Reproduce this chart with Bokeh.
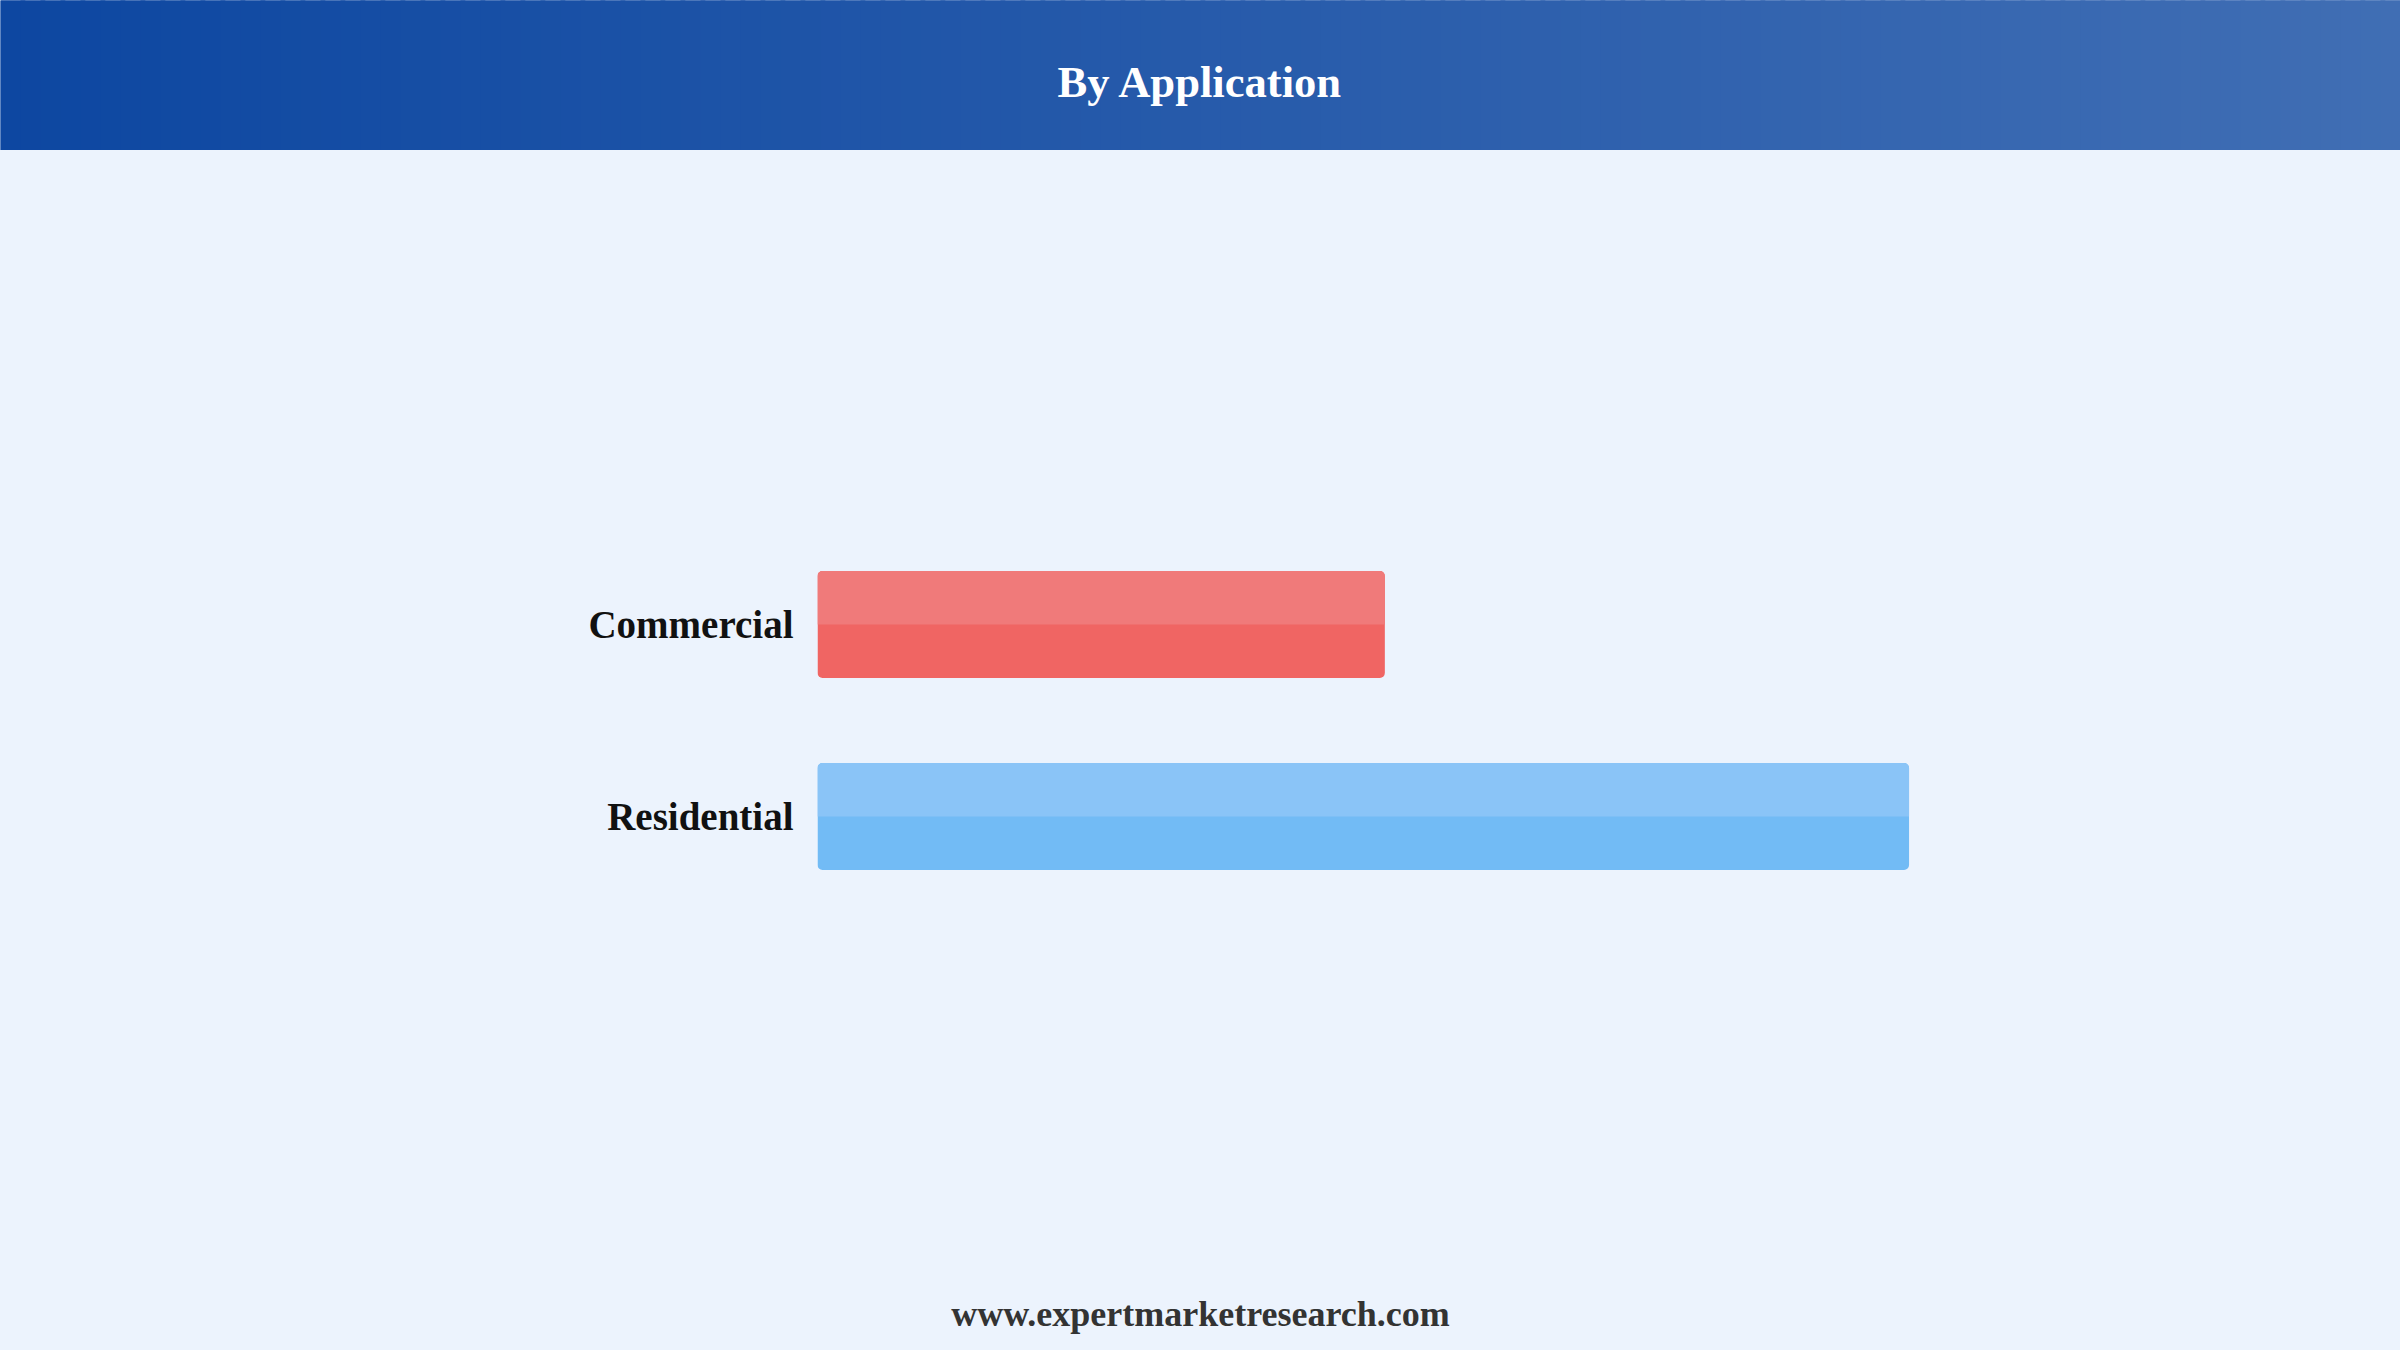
from bokeh.plotting import figure
from bokeh.models import ColumnDataSource, Range1d, FactorRange
from bokeh.layouts import column
from bokeh.transform import dodge
from bokeh.core.properties import value
from bokeh.embed import file_html
from bokeh.resources import INLINE

# data
applications = ["Commercial", "Residential"]
shares = [34.2, 65.8]
bar_top_colors = ["#f07a7a", "#8ac4f7"]
bar_bottom_colors = ["#f06563", "#72bbf5"]

title_text = "By Application"
footer_text = "www.expertmarketresearch.com"

BG = "#ecf3fd"
W = 2400
SERIF = "Liberation Serif"


def blank(fig):
    fig.xaxis.visible = False
    fig.yaxis.visible = False
    fig.xgrid.visible = False
    fig.ygrid.visible = False
    fig.outline_line_color = None
    fig.min_border = 0
    fig.frame_align = False
    return fig


# header band with a left-to-right gradient
header = blank(figure(width=W, height=150, x_range=Range1d(0, 1), y_range=Range1d(0, 150),
                      toolbar_location=None, output_backend="svg"))
header.border_fill_color = "#0d47a1"
header.background_fill_color = "#0d47a1"
n = 120
c0 = (0x0d, 0x47, 0xa1)
c1 = (0x40, 0x6e, 0xb4)
lefts = [i / n for i in range(n)]
rights = [(i + 1) / n + 0.002 for i in range(n)]
cols = ["#%02x%02x%02x" % tuple(int(round(a + (b - a) * (i + 0.5) / n)) for a, b in zip(c0, c1))
        for i in range(n)]
header.quad(left=lefts, right=rights, bottom=-2, top=152, fill_color=cols, line_color=None)
header.text(x=[0.5], y=[69], text=[title_text], text_align="center", text_baseline="alphabetic",
            text_font=value(SERIF), text_font_style="bold", text_font_size="44.6px", text_color="white")

# main bar chart
factors = applications[::-1]  # Commercial on top
source = ColumnDataSource(data=dict(app=applications, share=shares,
                                    top_color=bar_top_colors, bottom_color=bar_bottom_colors))

p = figure(width=W, height=1130, y_range=FactorRange(*factors, range_padding=0),
           x_range=Range1d(0, 90), toolbar_location=None, output_backend="svg")
p.frame_align = False
p.min_border_left = 817
p.min_border_right = 90
p.min_border_top = 378
p.min_border_bottom = 368
p.background_fill_color = BG
p.border_fill_color = BG
p.outline_line_color = None
p.xgrid.visible = False
p.ygrid.visible = False
p.xaxis.visible = False

bar_h = 0.557
p.hbar(y="app", left=0, right="share", height=bar_h, source=source,
       fill_color="bottom_color", line_color=None, border_radius=5)
p.hbar(y=dodge("app", bar_h / 4, range=p.y_range), left=0, right="share", height=bar_h / 2,
       source=source, fill_color="top_color", line_color=None, border_radius=(5, 5, 0, 0))

p.yaxis.axis_line_color = None
p.yaxis.major_tick_line_color = None
p.yaxis.minor_tick_line_color = None
p.yaxis.major_tick_out = 0
p.yaxis.major_label_standoff = 24
p.yaxis.major_label_text_font = SERIF
p.yaxis.major_label_text_font_style = "bold"
p.yaxis.major_label_text_font_size = "39px"
p.yaxis.major_label_text_color = "#111111"

# footer
footer = blank(figure(width=W, height=70, x_range=Range1d(0, 1), y_range=Range1d(0, 70),
                      toolbar_location=None, output_backend="svg"))
footer.background_fill_color = BG
footer.border_fill_color = BG
footer.text(x=[0.5], y=[37], text=[footer_text], text_align="center", text_baseline="alphabetic",
            text_font=value(SERIF), text_font_style="bold", text_font_size="36px", text_color="#333333")

layout = column(header, p, footer, spacing=0)
layout.styles = {"background-color": BG}

open("out.html", "w").write(file_html(layout, INLINE))
